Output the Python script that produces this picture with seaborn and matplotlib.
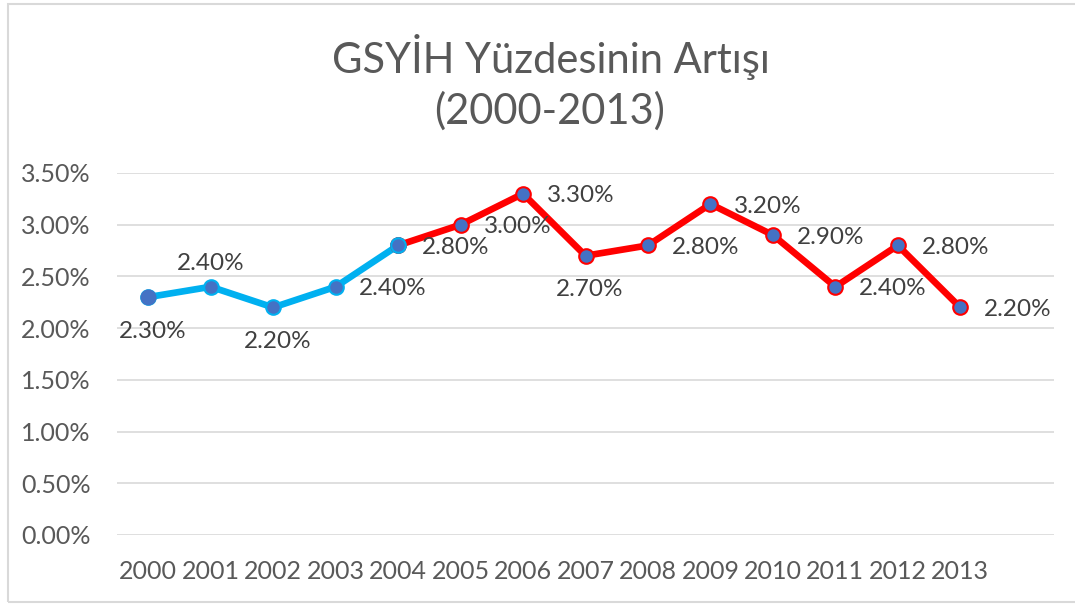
import matplotlib
matplotlib.use("Agg")
import matplotlib.pyplot as plt
import seaborn as sns
import pandas as pd
from matplotlib.patches import Rectangle

years = ["2000", "2001", "2002", "2003", "2004", "2005", "2006",
         "2007", "2008", "2009", "2010", "2011", "2012", "2013"]
growth = [0.023, 0.024, 0.022, 0.024, 0.028, 0.030, 0.033,
          0.027, 0.028, 0.032, 0.029, 0.024, 0.028, 0.022]
label_pos = ["below", "above", "below", "right", "right", "right", "right",
             "below", "right", "right", "right", "right", "right", "right"]
split_year = "2004"
yticks = [0.0, 0.005, 0.010, 0.015, 0.020, 0.025, 0.030, 0.035]

sns.set_theme(style="white")
plt.rcParams["font.family"] = ["Lato", "DejaVu Sans"]

df = pd.DataFrame({"year": years, "growth": growth})
df["x"] = range(len(df))
si = years.index(split_year)
early = df.iloc[: si + 1]
late = df.iloc[si:]

fig = plt.figure(figsize=(10.75, 6.04), dpi=100)
ax = fig.add_axes([117 / 1075, 1 - 535 / 604, (1054 - 117) / 1075, (535 - 173) / 604])

fig.patches.append(Rectangle((8 / 1075, 1 - 602 / 604), 1.2, (602 - 4) / 604,
                             transform=fig.transFigure, fill=False,
                             edgecolor="#d9d9d9", linewidth=1.5, zorder=0))

blue_line = "#00b0f0"
red_line = "#ff0000"
marker_fill = "#4472c4"
label_color = "#404040"
tick_color = "#595959"

sns.lineplot(data=early, x="x", y="growth", ax=ax, color=blue_line, linewidth=4.8,
             marker="o", markersize=10.5, markerfacecolor=marker_fill,
             markeredgecolor=blue_line, markeredgewidth=1.5, zorder=3)
sns.lineplot(data=late, x="x", y="growth", ax=ax, color=red_line, linewidth=4.8,
             marker="o", markersize=10.5, markerfacecolor=marker_fill,
             markeredgecolor=red_line, markeredgewidth=1.5, zorder=3)
ax.plot([0], [growth[0]], marker="o", markersize=10.5, color=marker_fill,
        markeredgecolor=marker_fill, zorder=5, linestyle="none")
ax.plot([si], [growth[si]], marker="o", markersize=10.5, color=marker_fill,
        markeredgecolor=blue_line, markeredgewidth=1.5, zorder=5, linestyle="none")

for i, (v, pos) in enumerate(zip(growth, label_pos)):
    txt = f"{v * 100:.2f}%"
    if pos == "below":
        ax.annotate(txt, (i, v), xytext=(3, -24.5), textcoords="offset points",
                    ha="center", va="center", fontsize=17.5, color=label_color)
    elif pos == "above":
        ax.annotate(txt, (i, v), xytext=(0, 16.5), textcoords="offset points",
                    ha="center", va="center", fontsize=17.5, color=label_color)
    else:
        ax.annotate(txt, (i, v), xytext=(17, -1.5), textcoords="offset points",
                    ha="left", va="center", fontsize=17.5, color=label_color)

ax.set_xlim(-0.5, len(years) + 0.5)
ax.set_ylim(0, 0.035)
ax.set_xticks(range(len(years)))
ax.set_xticklabels(years)
ax.set_yticks(yticks)
ax.set_yticklabels([f"{t * 100:.2f}%" for t in yticks])
ax.tick_params(axis="both", length=0, labelsize=18, colors=tick_color)
ax.tick_params(axis="x", pad=18)
ax.tick_params(axis="y", pad=19)
ax.grid(axis="y", color="#d9d9d9", linewidth=1.2)
ax.set_axisbelow(True)
for s in ax.spines.values():
    s.set_visible(False)
ax.set_xlabel("")
ax.set_ylabel("")

fig.text(551 / 1075, 1 - 57 / 604, "GSYİH Yüzdesinin Artışı", ha="center", va="center",
         fontsize=30, color=tick_color)
fig.text(550 / 1075, 1 - 111 / 604, "(2000-2013)", ha="center", va="center",
         fontsize=30, color=tick_color)

fig.savefig("out.png", dpi=100)
